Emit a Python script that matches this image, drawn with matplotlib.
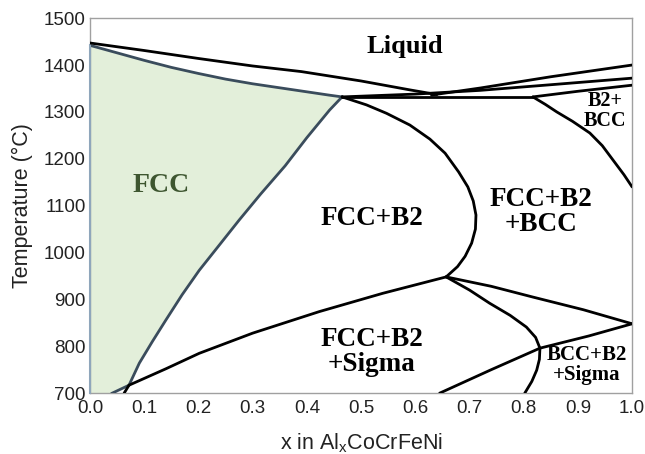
import matplotlib.pyplot as plt
import numpy as np

# phase boundaries (x, T in degC)
liq_x = [0.0, 0.1, 0.2, 0.3, 0.39, 0.5, 0.59, 0.64]
liq_T = [1447, 1431, 1414, 1398, 1386, 1366, 1347, 1337]

liq2_x = [0.63, 0.72, 0.85, 1.0]
liq2_T = [1336, 1351, 1375, 1400]

mid_x = [0.465, 0.6, 0.72, 0.85, 1.0]
mid_T = [1332, 1338, 1346, 1358, 1372]

flat_x = [0.465, 0.817]
flat_T = [1332, 1332]

low_x = [0.817, 0.9, 1.0]
low_T = [1332, 1344, 1357]

bcc_x = [0.817, 0.84, 0.861, 0.89, 0.922, 0.945, 0.965, 0.985, 1.0]
bcc_T = [1332, 1316, 1300, 1280, 1255, 1228, 1197, 1166, 1140]

sol_x = [0.0, 0.05, 0.1, 0.15, 0.2, 0.25, 0.3, 0.37, 0.44, 0.465]
sol_T = [1442, 1426, 1410, 1395, 1382, 1370, 1360, 1348, 1336, 1332]

fccb_x = [0.465, 0.442, 0.4, 0.36, 0.315, 0.275, 0.24, 0.2015, 0.17, 0.14, 0.115, 0.091, 0.072, 0.041]
fccb_T = [1332, 1304, 1245, 1185, 1125, 1069, 1018, 962, 910, 856, 810, 764, 717, 700]

stub_x = [0.063, 0.072]
stub_T = [700, 717]

sig_x = [0.072, 0.14, 0.2015, 0.3, 0.423, 0.54, 0.657]
sig_T = [717, 752, 785, 828, 874, 913, 948]

b2_x = [0.465, 0.51, 0.547, 0.59, 0.627, 0.655, 0.68, 0.697, 0.707, 0.712, 0.711,
        0.704, 0.692, 0.678, 0.657]
b2_T = [1332, 1315, 1297, 1272, 1242, 1212, 1172, 1140, 1110, 1080, 1050,
        1020, 992, 970, 948]

q1_x = [0.657, 0.74, 0.817, 0.91, 1.0]
q1_T = [948, 928, 905, 878, 848]

q2_x = [0.657, 0.7, 0.737, 0.775, 0.805, 0.822, 0.83, 0.829, 0.824, 0.815, 0.802]
q2_T = [948, 920, 892, 866, 841, 819, 796, 772, 749, 725, 700]

r_x = [0.645, 0.74, 0.83, 0.92, 1.0]
r_T = [700, 750, 796, 822, 848]

fig = plt.figure(figsize=(6.45, 4.54), dpi=100)
ax = fig.add_axes([0.1395, 0.134, 0.8405, 0.826])

# FCC single phase field
poly_x = [0.0] + sol_x + fccb_x[1:] + [0.0]
poly_T = [700] + sol_T + fccb_T[1:] + [700]
ax.fill(poly_x, poly_T, color='#e3efda', lw=0, zorder=1)

slate = '#3a4c5c'
ax.plot(sol_x, sol_T, color=slate, lw=2, zorder=3)
ax.plot(fccb_x, fccb_T, color=slate, lw=2, zorder=3)
ax.plot([0, 0], [700, 1442], color='#8fa6bb', lw=1.5, zorder=3, clip_on=False)

for xs, ts in [(liq_x, liq_T), (liq2_x, liq2_T), (mid_x, mid_T), (flat_x, flat_T),
               (low_x, low_T), (bcc_x, bcc_T), (stub_x, stub_T), (sig_x, sig_T),
               (b2_x, b2_T), (q1_x, q1_T), (q2_x, q2_T), (r_x, r_T)]:
    ax.plot(xs, ts, color='black', lw=2, zorder=4, solid_capstyle='round',
            solid_joinstyle='round')

lab = dict(family='Liberation Serif', fontweight='bold', ha='center', va='center',
           linespacing=1.0)
ax.text(0.58, 1440, 'Liquid', fontsize=19, **lab)
ax.text(0.131, 1144, 'FCC', fontsize=20, color='#3e5630', **lab)
ax.text(0.52, 1073, 'FCC+B2', fontsize=19.5, **lab)
ax.text(0.832, 1086, 'FCC+B2\n+BCC', fontsize=19.5, **lab)
ax.text(0.95, 1302, 'B2+\nBCC', fontsize=14.5, **lab)
ax.text(0.52, 787, 'FCC+B2\n+Sigma', fontsize=19.5, **lab)
ax.text(0.917, 760, 'BCC+B2\n+Sigma', fontsize=15, **lab)

ax.set_xlim(0, 1)
ax.set_ylim(700, 1500)
ax.set_xticks(np.arange(0, 1.01, 0.1))
ax.set_yticks(np.arange(700, 1501, 100))
ax.set_xticklabels(['%.1f' % v for v in np.arange(0, 1.01, 0.1)])
ax.tick_params(length=0, labelsize=13.5, colors='#222222')
ax.tick_params(axis='x', pad=5)
ax.tick_params(axis='y', pad=3)
for s in ax.spines.values():
    s.set_color('#a0a0a0')
    s.set_linewidth(1)
for t in ax.get_xticklabels() + ax.get_yticklabels():
    t.set_family('Liberation Sans')

ax.set_xlabel('x in Al$_\\mathregular{x}$CoCrFeNi', family='Liberation Sans', fontsize=15.5,
              labelpad=10, color='#222222')
ax.set_ylabel('Temperature (°C)', family='Liberation Sans', fontsize=15.5, labelpad=8,
              color='#222222')

fig.savefig('out.png', dpi=100)
